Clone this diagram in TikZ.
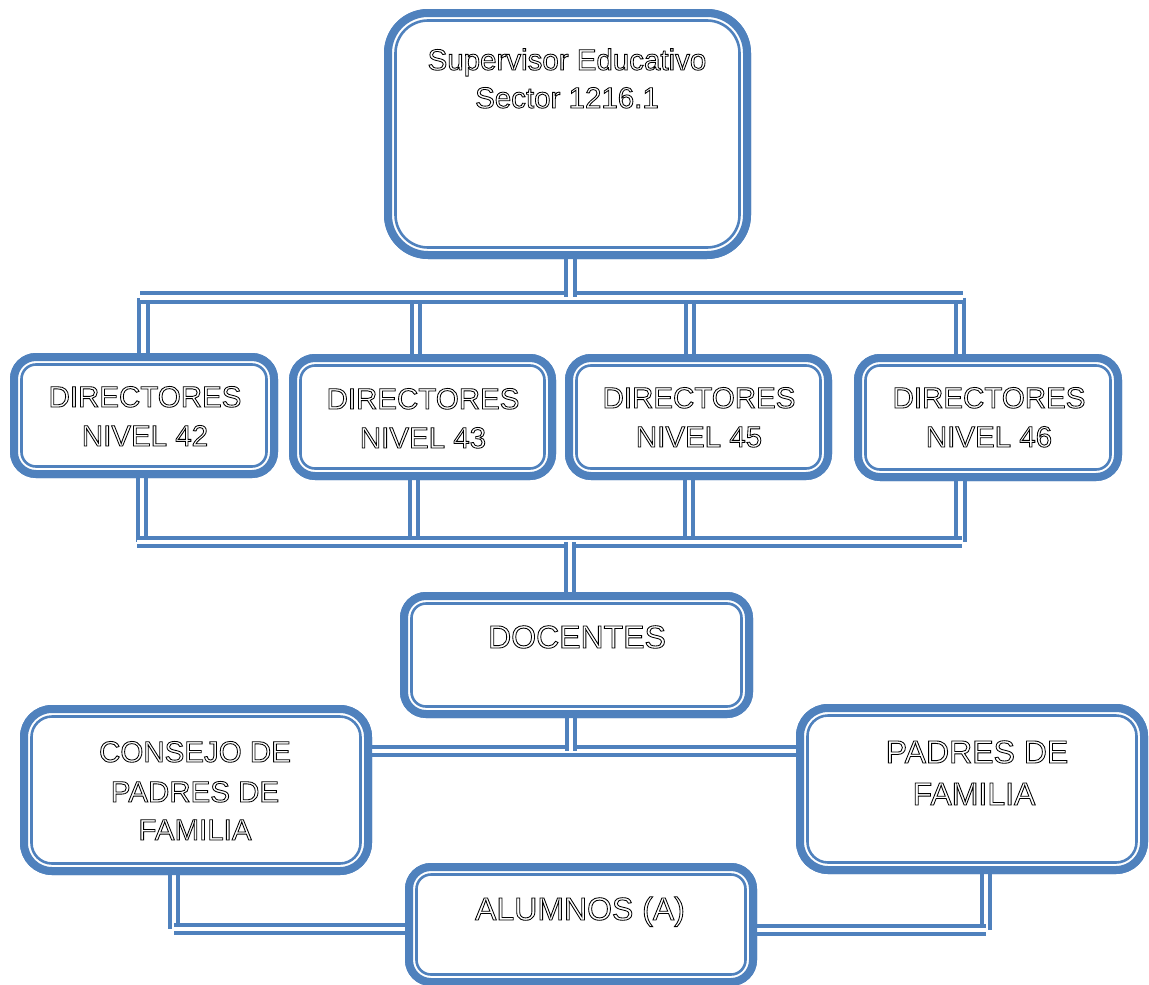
\documentclass[tikz,border=0pt]{standalone}
\usepackage{fontspec}
\setmainfont{Liberation Sans}
\definecolor{wblue}{HTML}{4F81BD}
\newcommand\outl[1]{\special{pdf:literal direct 1 Tr 0.85 w 0 0 0 RG}#1\special{pdf:literal direct 0 Tr}}
\tikzset{
  obox/.style={draw=wblue, line width=8pt, fill=white, rounded corners=#1, inner sep=0pt, outer sep=0pt},
  ibox/.style={draw=wblue, line width=2.6pt, rounded corners=#1},
  conn/.style={draw=wblue, line width=4pt, double=white, double distance=4.5pt},
  lbl/.style={anchor=base, inner sep=0pt, font=\fontsize{29.5}{35}\selectfont},
  lblbig/.style={anchor=base, inner sep=0pt, font=\fontsize{32}{38}\selectfont},
}
\begin{document}
\begin{tikzpicture}[x=1pt,y=-1pt]
\useasboundingbox (0,0) rectangle (1149,985);

% coordinates for connectors
\coordinate (barL) at (140,297.5);
\coordinate (barR) at (963,297.5);
\coordinate (t1) at (143.5,297.5);
\coordinate (t2) at (416,297.5);
\coordinate (t3) at (690,297.5);
\coordinate (t4) at (960,297.5);
\coordinate (s0) at (570.5,297);
\coordinate (lowL) at (137,542);
\coordinate (lowR) at (962,542);
\coordinate (b1) at (142,542);
\coordinate (b2) at (414,542);
\coordinate (b3) at (689,542);
\coordinate (b4) at (960.5,542);
\coordinate (d0) at (570,542);
\coordinate (m) at (571,751);
\coordinate (c1) at (174,929);
\coordinate (p1) at (986,930);

% boxes (outer thick border) defined first as nodes
\path
  node[obox=40pt, minimum width=359pt, minimum height=242pt] (sup) at (567.5,134) {}
  node[obox=22pt, minimum width=260pt, minimum height=117pt] (d42) at (144,415.5) {}
  node[obox=22pt, minimum width=259pt, minimum height=118pt] (d43) at (422.5,417) {}
  node[obox=22pt, minimum width=259pt, minimum height=118pt] (d45) at (698.5,417) {}
  node[obox=22pt, minimum width=260pt, minimum height=119pt] (d46) at (988,417.5) {}
  node[obox=22pt, minimum width=345pt, minimum height=118pt] (doc) at (576.5,655) {}
  node[obox=28pt, minimum width=344pt, minimum height=162pt] (cons) at (196,790) {}
  node[obox=28pt, minimum width=344pt, minimum height=162pt] (pad) at (972,789) {}
  node[obox=22pt, minimum width=344pt, minimum height=115pt] (alu) at (581,924.5) {};

% connectors: upper level
\draw[conn] (t1) -- (t1 |- d42.north);
\draw[conn] (t2) -- (t2 |- d43.north);
\draw[conn] (t3) -- (t3 |- d45.north);
\draw[conn] (t4) -- (t4 |- d46.north);
\draw[conn] (barL) -- (barR);
\draw[conn] (s0 |- sup.south) -- (s0);

% connectors: lower level
\draw[conn] (b1 |- d42.south) -- (b1);
\draw[conn] (b2 |- d43.south) -- (b2);
\draw[conn] (b3 |- d45.south) -- (b3);
\draw[conn] (b4 |- d46.south) -- (b4);
\draw[conn] (lowL) -- (lowR);
\draw[conn] (d0) -- (d0 |- doc.north);

% docentes to consejo / padres
\draw[conn] (m -| cons.east) -- (m -| pad.west);
\draw[conn] (m |- doc.south) -- (m);

% consejo / padres to alumnos
\draw[conn] (c1 |- cons.south) -- (c1);
\draw[conn] (c1) -- (c1 -| alu.west);
\draw[conn] (p1 |- pad.south) -- (p1);
\draw[conn] (p1) -- (p1 -| alu.east);

% redraw boxes on top of connectors
\path
  node[obox=40pt, minimum width=359pt, minimum height=242pt] at (567.5,134) {}
  node[obox=22pt, minimum width=260pt, minimum height=117pt] at (144,415.5) {}
  node[obox=22pt, minimum width=259pt, minimum height=118pt] at (422.5,417) {}
  node[obox=22pt, minimum width=259pt, minimum height=118pt] at (698.5,417) {}
  node[obox=22pt, minimum width=260pt, minimum height=119pt] at (988,417.5) {}
  node[obox=22pt, minimum width=345pt, minimum height=118pt] at (576.5,655) {}
  node[obox=28pt, minimum width=344pt, minimum height=162pt] at (196,790) {}
  node[obox=28pt, minimum width=344pt, minimum height=162pt] at (972,789) {}
  node[obox=22pt, minimum width=344pt, minimum height=115pt] at (581,924.5) {};

% inner thin borders
\foreach \n/\r in {sup/32.5pt, d42/14.5pt, d43/14.5pt, d45/14.5pt, d46/14.5pt, doc/14.5pt, cons/20.5pt, pad/20.5pt, alu/14.5pt}{
  \draw[ibox=\r] ([shift={(7.5,7.5)}]\n.north west) rectangle ([shift={(-7.5,-7.5)}]\n.south east);
}

% texts
\node[lbl] (supa) at (567,70) {\outl{Supervisor Educativo}};
\node[lbl] (supb) at (567,108) {\outl{Sector 1216.1}};
\node[lbl] (d42a) at (145,407) {\outl{DIRECTORES}};
\node[lbl] (d42b) at (145,446) {\outl{NIVEL 42}};
\node[lbl] (d43a) at (423,409) {\outl{DIRECTORES}};
\node[lbl] (d43b) at (423,448) {\outl{NIVEL 43}};
\node[lbl] (d45a) at (699,408) {\outl{DIRECTORES}};
\node[lbl] (d45b) at (699,447) {\outl{NIVEL 45}};
\node[lbl] (d46a) at (989,408) {\outl{DIRECTORES}};
\node[lbl] (d46b) at (989,447) {\outl{NIVEL 46}};
\node[lblbig] (doca) at (577,648) {\outl{DOCENTES}};
\node[lbl] (consa) at (195,762) {\outl{CONSEJO DE}};
\node[lbl] (consb) at (195,802) {\outl{PADRES DE}};
\node[lbl] (consc) at (195,840) {\outl{FAMILIA}};
\node[lblbig] (pada) at (977,763) {\outl{PADRES DE}};
\node[lblbig] (padb) at (974,805) {\outl{FAMILIA}};
\node[lblbig] (alua) at (580,920) {\outl{ALUMNOS (A)}};
\end{tikzpicture}
\end{document}
